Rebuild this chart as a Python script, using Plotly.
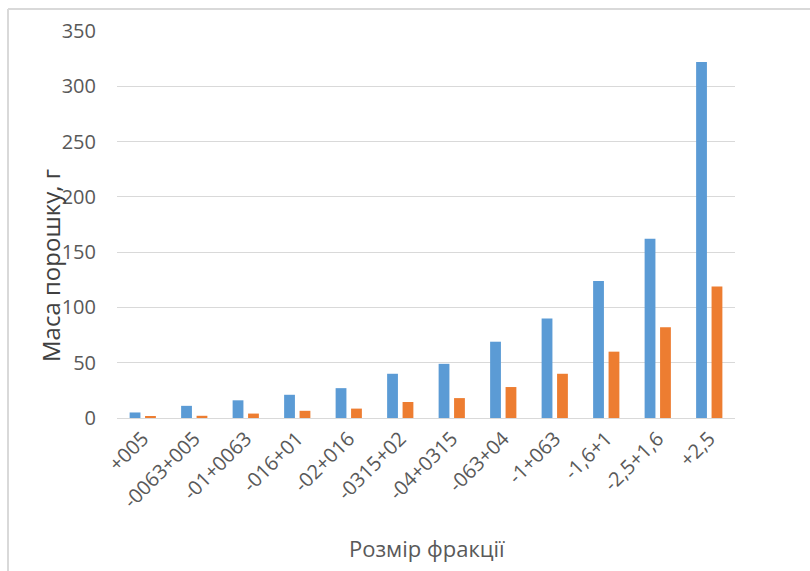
import plotly.graph_objects as go

# Fraction size classes and powder mass per fraction
fractions = ["+005", "-0063+005", "-01+0063", "-016+01", "-02+016", "-0315+02",
             "-04+0315", "-063+04", "-1+063", "-1,6+1", "-2,5+1,6", "+2,5"]
mass_series_1 = [5, 11, 16, 21, 27, 40, 49, 69, 90, 124, 162, 322]
mass_series_2 = [1.5, 2, 4, 6.5, 8.5, 14.5, 18, 28, 40, 60, 82, 119]

y_ticks = [0, 50, 100, 150, 200, 250, 300, 350]

FONT = "Open Sans"
GRAY = "#595959"
GRID = "#d9d9d9"

fig = go.Figure()
fig.add_trace(go.Bar(x=fractions, y=mass_series_1, marker_color="#5B9BD5",
                     marker_line_width=0, showlegend=False))
fig.add_trace(go.Bar(x=fractions, y=mass_series_2, marker_color="#ED7D31",
                     marker_line_width=0, showlegend=False))

W, H = 810, 571
L, R, T, B = 117, 75, 31, 153
pw, ph = W - L - R, H - T - B


def px_x(x):
    return (x - L) / pw


def px_y(y):
    return (H - B - y) / ph


fig.update_layout(
    width=W, height=H,
    margin=dict(l=L, r=R, t=T, b=B, pad=0),
    paper_bgcolor="white", plot_bgcolor="white",
    barmode="group", bargap=0.4, bargroupgap=0.3,
    font=dict(family=FONT, color=GRAY),
    xaxis=dict(
        tickangle=-45, tickfont=dict(size=20, color=GRAY),
        showline=True, linecolor=GRID, linewidth=1,
        showgrid=False, ticks="", ticklen=0,
    ),
    yaxis=dict(
        range=[0, 350], tickvals=y_ticks, tickfont=dict(size=20, color=GRAY),
        showgrid=True, gridcolor=GRID, gridwidth=1,
        zeroline=False, showline=False, ticks="", ticklabelstandoff=20,
    ),
    annotations=[
        dict(text="Маса порошку, г", textangle=-90, showarrow=False,
             xref="paper", yref="paper", x=px_x(50), y=px_y(266),
             xanchor="center", yanchor="middle",
             font=dict(size=24, color="#404040", family=FONT)),
        dict(text="Розмір фракції", showarrow=False,
             xref="paper", yref="paper", x=px_x(427), y=px_y(548),
             xanchor="center", yanchor="middle",
             font=dict(size=22, color=GRAY, family=FONT)),
    ],
    shapes=[
        dict(type="line", xref="paper", yref="paper",
             x0=px_x(8), x1=px_x(8), y0=px_y(9), y1=px_y(580),
             line=dict(color=GRID, width=2)),
        dict(type="line", xref="paper", yref="paper",
             x0=px_x(8), x1=px_x(820), y0=px_y(9), y1=px_y(9),
             line=dict(color=GRID, width=2)),
    ],
)

fig.write_html("out.html")
